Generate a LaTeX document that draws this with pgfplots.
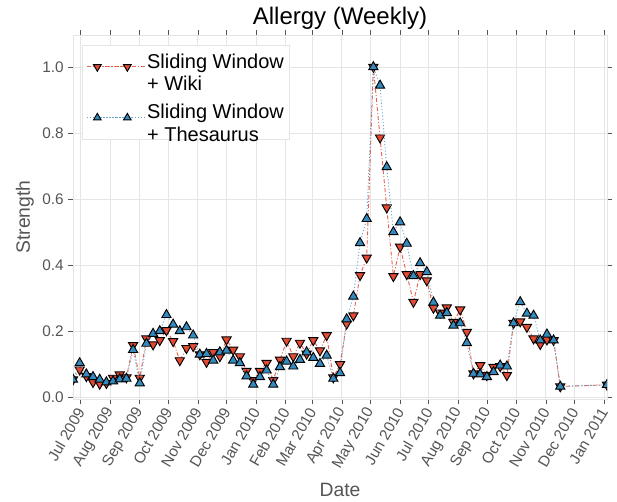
\documentclass[border=0pt]{standalone}
\usepackage{fontspec}
\setmainfont{Liberation Sans}
\usepackage{pgfplots}
\usepackage{pgfplotstable}
\pgfplotsset{compat=1.18}
\usetikzlibrary{calc}

\definecolor{wikired}{HTML}{E24A33}
\definecolor{thesblue}{HTML}{348ABD}
\definecolor{gridgray}{HTML}{E5E5E5}
\definecolor{tickgray}{HTML}{555555}

% days since 1 Jul 2009, weekly
\pgfplotstableread{
day wiki thes
-8 0.053 0.053
-1 0.083 0.103
6 0.063 0.069
13 0.045 0.061
20 0.040 0.053
27 0.042 0.045
34 0.058 0.048
41 0.068 0.054
48 0.059 0.056
55 0.157 0.143
62 0.058 0.042
69 0.177 0.162
76 0.159 0.192
83 0.172 0.200
90 0.202 0.249
97 0.169 0.220
104 0.111 0.200
111 0.148 0.212
118 0.154 0.187
125 0.129 0.129
132 0.106 0.131
139 0.136 0.111
146 0.123 0.136
153 0.174 0.141
160 0.143 0.111
167 0.123 0.103
174 0.079 0.063
181 0.051 0.038
188 0.079 0.061
195 0.103 0.081
202 0.051 0.038
209 0.113 0.091
216 0.170 0.108
223 0.123 0.093
230 0.164 0.113
237 0.131 0.136
244 0.172 0.119
251 0.141 0.101
258 0.187 0.126
265 0.059 0.056
272 0.099 0.073
279 0.222 0.236
286 0.247 0.305
293 0.369 0.467
300 0.422 0.540
307 1.000 1.000
314 0.786 0.944
321 0.574 0.697
328 0.366 0.500
335 0.455 0.530
342 0.372 0.465
349 0.288 0.367
356 0.372 0.406
363 0.353 0.379
370 0.270 0.287
377 0.255 0.247
384 0.271 0.255
391 0.227 0.217
398 0.265 0.224
405 0.197 0.164
412 0.071 0.071
419 0.096 0.069
426 0.066 0.061
433 0.091 0.076
440 0.093 0.096
447 0.066 0.093
454 0.224 0.224
461 0.229 0.288
468 0.212 0.253
475 0.177 0.247
482 0.160 0.172
489 0.174 0.190
496 0.172 0.172
503 0.032 0.032
552 0.037 0.037
}\allergy

\begin{document}
\begin{tikzpicture}
\begin{axis}[
  name=ax,
  scale only axis,
  width=400.5pt, height=273pt,
  xmin=-8, xmax=552,
  ymin=-0.006, ymax=1.097,
  xtick={0,31,62,92,123,153,184,215,243,274,304,335,365,396,427,457,488,518,549},
  xticklabels={Jul 2009,Aug 2009,Sep 2009,Oct 2009,Nov 2009,Dec 2009,Jan 2010,Feb 2010,Mar 2010,Apr 2010,May 2010,Jun 2010,Jul 2010,Aug 2010,Sep 2010,Oct 2010,Nov 2010,Dec 2010,Jan 2011},
  ytick={0,0.2,0.4,0.6,0.8,1.0},
  /pgf/number format/assume math mode=true,
  yticklabel style={/pgf/number format/fixed, /pgf/number format/fixed zerofill,
    /pgf/number format/precision=1},
  tick label style={font=\fontsize{11.5}{13}\selectfont, text=tickgray},
  xticklabel style={rotate=60, anchor=east, yshift=-2pt},
  tick align=outside, xtick pos=both, ytick pos=both,
  major tick length=3.5pt,
  tick style={tickgray, line width=0.6pt},
  grid=major,
  major grid style={gridgray, line width=0.75pt},
  axis line style={gridgray, line width=0.75pt},
  xlabel={Date},
  xlabel style={at={(axis description cs:0.5,-0.25)}, anchor=center,
    font=\fontsize{14.5}{16}\selectfont, text=tickgray},
  ylabel={Strength},
  ylabel style={at={(axis description cs:-0.0899,0.5)}, anchor=center,
    font=\fontsize{14.5}{16}\selectfont, text=tickgray},
  clip marker paths=true,
  legend style={at={(axis description cs:0.0163,0.9725)}, anchor=north west,
    draw=gridgray, fill=white, line width=0.75pt,
    font=\fontsize{15}{17}\selectfont,
    inner xsep=3pt, inner ysep=4pt, row sep=14pt,
    nodes={inner sep=1pt}},
  legend cell align=left,
  legend image code/.code={%
    \path (-8pt,0pt) -- (36pt,0pt);
    \draw[#1, mark size=3.3pt] plot coordinates {(0pt,0pt) (22.5pt,0pt)};},
]
\addplot[color=wikired!85!white, line width=0.7pt,
  dash pattern=on 3pt off 1.5pt on 0.8pt off 1.5pt,
  mark=triangle*, mark size=4pt,
  mark options={solid, rotate=180, fill=wikired, draw=black, line width=0.7pt}]
  table[x=day, y=wiki] {\allergy};
\addlegendentry{\begin{tabular}{@{}l@{}}Sliding Window\\+ Wiki\end{tabular}}
\addplot[color=thesblue!75!white, line width=0.7pt,
  dash pattern=on 0.8pt off 1.6pt,
  mark=triangle*, mark size=4pt,
  mark options={solid, fill=thesblue, draw=black, line width=0.7pt}]
  table[x=day, y=thes] {\allergy};
\addlegendentry{\begin{tabular}{@{}l@{}}Sliding Window\\+ Thesaurus\end{tabular}}
\end{axis}
\node[anchor=center, font=\fontsize{18}{20}\selectfont] at ($(ax.north)+(0,12.75pt)$) {Allergy (Weekly)};
\pgfresetboundingbox
\path[use as bounding box] ($(ax.south west)+(-54.75pt,-76.5pt)$) rectangle ($(ax.north east)+(7.5pt,26.25pt)$);
\end{tikzpicture}
\end{document}
